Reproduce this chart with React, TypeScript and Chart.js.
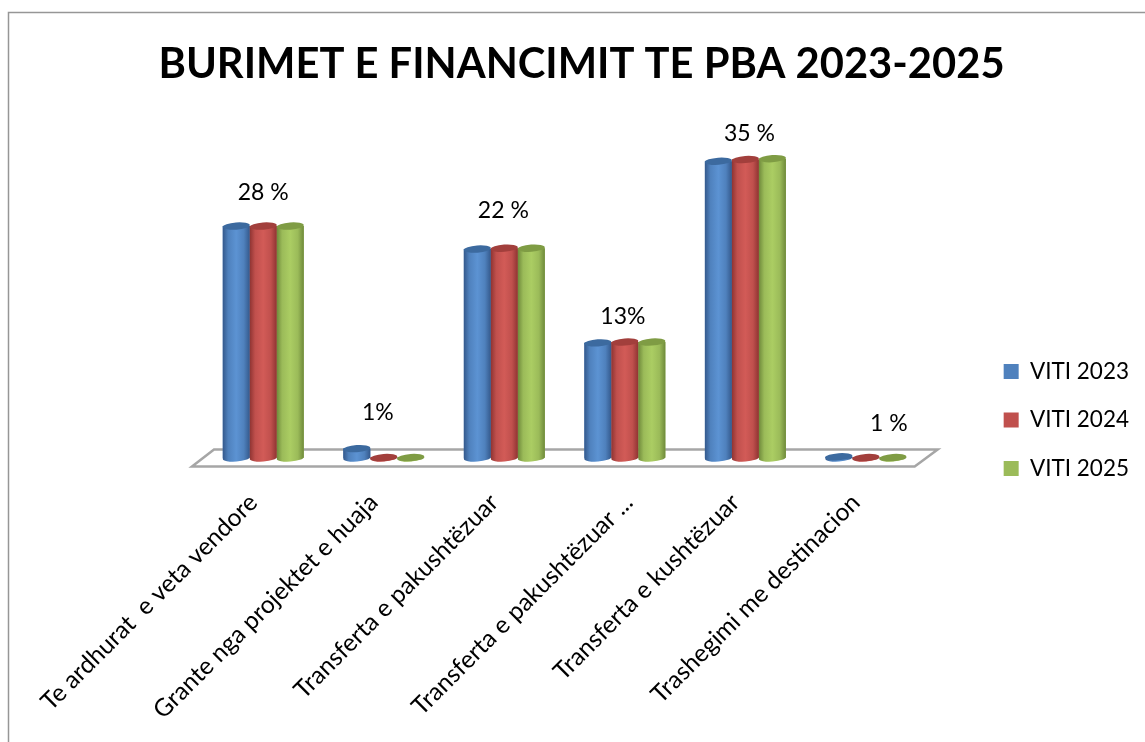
import React, { useEffect, useRef } from "react";
import { Chart, registerables } from "chart.js";

Chart.register(...registerables);

const titleText = "BURIMET E FINANCIMIT TE PBA 2023-2025";
const categories = [
  "Te ardhurat  e veta vendore",
  "Grante nga projektet e huaja",
  "Transferta e pakushtëzuar",
  "Transferta e pakushtëzuar ...",
  "Transferta e kushtëzuar",
  "Trashegimi me destinacion",
];
const viti2023 = [27.2, 1.1, 24.5, 13.5, 34.8, 0.15];
const viti2024 = [27.2, 0.05, 24.6, 13.6, 35.0, 0.05];
const viti2025 = [27.2, 0.05, 24.6, 13.6, 35.1, 0.05];
const valueLabels = ["28 %", "1%", "22 %", "13%", "35 %", "1 %"];

const FONT = "Lato, Carlito, 'Open Sans', sans-serif";
const palette = [
  { base: "#4f81bd", edge: "#34598c", light: "#5c93d3", top: "#3c6a9f" },
  { base: "#c0504d", edge: "#8f3432", light: "#d25b57", top: "#a23f3c" },
  { base: "#9bbb59", edge: "#6f8a3b", light: "#abcd63", top: "#7f9c44" },
];
// manual label placement in the source chart: [dx, dy above the tallest bar]
const labelShift = [
  [0, 33],
  [-6, 36],
  [-1, 38],
  [-2, 25],
  [4, 25],
  [23, 33],
];

const cylinderPlugin = {
  id: "cylinders",
  beforeDraw(chart: any) {
    const { ctx, width, height } = chart;
    ctx.save();
    ctx.fillStyle = "#ffffff";
    ctx.fillRect(0, 0, width, height);
    ctx.strokeStyle = "#969696";
    ctx.lineWidth = 1.5;
    ctx.beginPath();
    ctx.moveTo(8.5, height);
    ctx.lineTo(8.5, 12.5);
    ctx.lineTo(width, 12.5);
    ctx.stroke();
    ctx.restore();
    // the truncated fourth category label sits further right in the source
    const item = chart.scales.x.getLabelItems()[3];
    if (item && !item.moved) {
      item.options.translation[0] += 14;
      item.moved = true;
    }
  },
  beforeDatasetsDraw(chart: any) {
    const { ctx, chartArea, scales } = chart;
    const y0 = scales.y.getPixelForValue(0);
    ctx.save();
    ctx.strokeStyle = "#a6a6a6";
    ctx.lineWidth = 2.5;
    ctx.beginPath();
    ctx.moveTo(chartArea.left - 11, y0 + 8.5);
    ctx.lineTo(chartArea.left + 11, y0 - 8.5);
    ctx.lineTo(chartArea.right + 11.5, y0 - 8.5);
    ctx.lineTo(chartArea.right - 11.5, y0 + 8.5);
    ctx.closePath();
    ctx.stroke();
    ctx.restore();
  },
  afterDatasetsDraw(chart: any) {
    const { ctx, scales } = chart;
    const tilt = -0.07;
    const ry = 3.6;
    ctx.save();
    chart.data.datasets.forEach((_: any, i: number) => {
      const c = palette[i];
      chart.getDatasetMeta(i).data.forEach((el: any) => {
        const rx = el.width / 2;
        const left = el.x - rx;
        const g = ctx.createLinearGradient(left, 0, left + el.width, 0);
        g.addColorStop(0, c.edge);
        g.addColorStop(0.2, c.base);
        g.addColorStop(0.5, c.light);
        g.addColorStop(0.78, c.base);
        g.addColorStop(1, c.edge);
        ctx.fillStyle = g;
        ctx.beginPath();
        ctx.moveTo(left, el.y);
        ctx.lineTo(left + el.width, el.y);
        ctx.lineTo(left + el.width, el.base);
        ctx.ellipse(el.x, el.base, rx, ry, tilt, 0, Math.PI);
        ctx.closePath();
        ctx.fill();
        ctx.fillStyle = c.top;
        ctx.beginPath();
        ctx.ellipse(el.x, el.y, rx, ry, tilt, 0, Math.PI * 2);
        ctx.fill();
      });
    });
    ctx.fillStyle = "#000000";
    ctx.font = `23px ${FONT}`;
    ctx.textAlign = "center";
    ctx.textBaseline = "middle";
    valueLabels.forEach((text, j) => {
      const top = Math.max(viti2023[j], viti2024[j], viti2025[j]);
      ctx.fillText(
        text,
        scales.x.getPixelForTick(j) + labelShift[j][0],
        scales.y.getPixelForValue(top) - labelShift[j][1]
      );
    });
    ctx.restore();
  },
};

export default function App() {
  const ref = useRef<HTMLCanvasElement>(null);
  useEffect(() => {
    document.body.style.margin = "0";
    const names = ["VITI 2023", "VITI 2024", "VITI 2025"];
    const series = [viti2023, viti2024, viti2025];
    const chart = new Chart(ref.current as HTMLCanvasElement, {
      type: "bar",
      data: {
        labels: categories,
        datasets: series.map((data, i) => ({
          label: names[i],
          data,
          backgroundColor: palette[i].base,
          borderWidth: 0,
          barPercentage: 1,
          categoryPercentage: 0.672,
        })),
      },
      plugins: [cylinderPlugin],
      options: {
        animation: false,
        responsive: false,
        layout: { padding: { left: 24, right: 6, top: 0, bottom: 0 } },
        plugins: {
          tooltip: { enabled: false },
          title: {
            display: true,
            text: titleText,
            color: "#000000",
            font: { family: FONT, size: 41.7, weight: "bold", lineHeight: 1 },
            padding: { top: 44, bottom: 7.3 },
          },
          legend: {
            position: "right",
            maxWidth: 166,
            title: { display: true, text: " ", font: { size: 1 }, padding: { top: 97, bottom: 0 } },
            labels: {
              boxWidth: 15,
              boxHeight: 15,
              padding: 26,
              color: "#000000",
              font: { family: FONT, size: 22.5 },
            },
          },
        },
        scales: {
          x: {
            grid: { display: false },
            border: { display: false },
            ticks: {
              autoSkip: false,
              minRotation: 45,
              maxRotation: 45,
              color: "#000000",
              padding: 22,
              labelOffset: -10,
              font: { family: FONT, size: 24.5 },
            },
            afterFit(s: any) {
              s.height = 284;
              s.paddingLeft = 0;
              s.paddingRight = 0;
            },
          },
          y: {
            min: 0,
            max: 42.8,
            grid: { display: false },
            border: { display: false },
            ticks: { display: false },
            afterFit(s: any) {
              s.width = 179;
            },
          },
          y2: {
            position: "right",
            grid: { display: false },
            border: { display: false },
            ticks: { display: false },
            afterFit(s: any) {
              s.width = 51.5;
            },
          },
        },
      },
    } as any);
    return () => chart.destroy();
  }, []);
  return (
    <div style={{ width: 1145, height: 742 }}>
      <canvas ref={ref} width={1145} height={742} style={{ display: "block" }} />
    </div>
  );
}
